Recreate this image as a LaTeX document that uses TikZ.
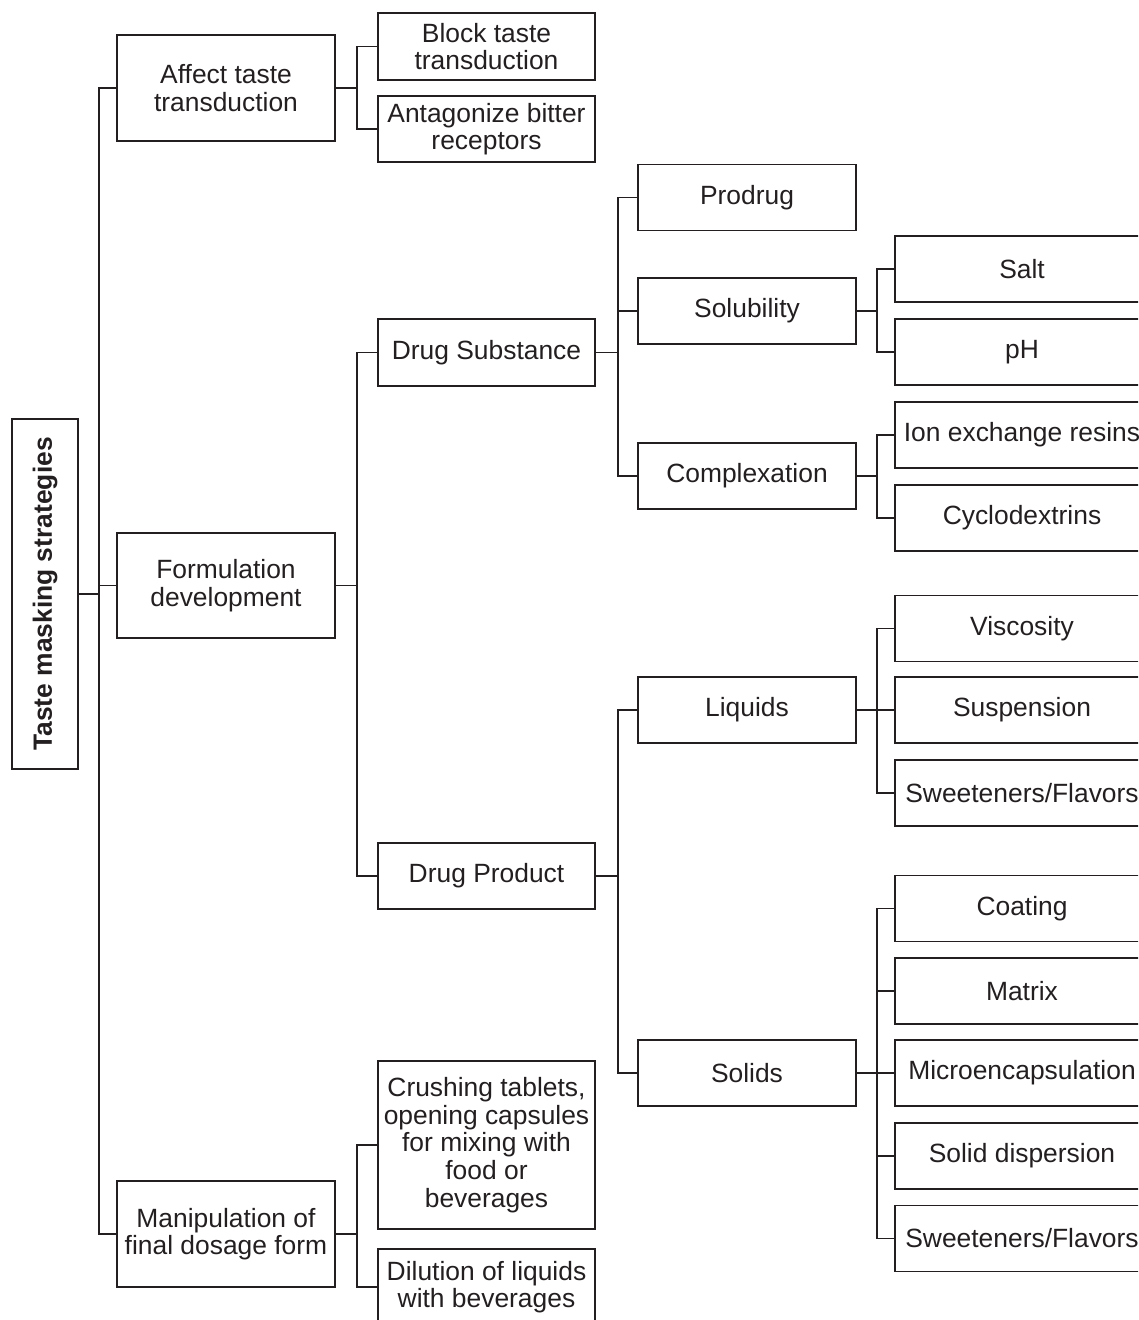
\documentclass[tikz,border=0pt]{standalone}
\usepackage{fontspec}
\setmainfont{Liberation Sans}
\definecolor{ink}{HTML}{231F20}
\begin{document}
\begin{tikzpicture}[x=1pt,y=-1pt,
  box/.style={draw=ink,line width=1.7pt,rectangle,inner sep=0pt,align=center,
    text=ink,font=\fontsize{26.4}{27.6}\selectfont},
  lone/.style={box,minimum width=218pt},
  ltwo/.style={box,minimum width=217pt},
  lthree/.style={box,minimum width=218pt,minimum height=66pt},
  lfour/.style={box,minimum width=254pt,minimum height=66pt},
  link/.style={draw=ink,line width=1.7pt}]
\useasboundingbox (0,0) rectangle (1138,1320);
\clip (0,0) rectangle (1138,1320);
% root
\node[box,rotate=90,minimum width=350pt,minimum height=66pt,font=\fontsize{26.4}{27.6}\selectfont\bfseries] (root) at (45,594) {Taste masking strategies};
% level 1
\node[lone,minimum height=106pt] (affect) at (226,88) {Affect taste\\transduction};
\node[lone,minimum height=105pt] (form) at (226,585.5) {Formulation\\development};
\node[lone,minimum height=106pt] (manip) at (226,1234) {Manipulation of\\final dosage form};
% level 2
\node[ltwo,minimum height=67pt] (block) at (486.5,46.5) {Block taste\\transduction};
\node[ltwo,minimum height=66pt] (antag) at (486.5,129) {Antagonize bitter\\receptors};
\node[ltwo,minimum height=67pt] (dsub) at (486.5,352.5) {Drug Substance};
\node[ltwo,minimum height=66pt] (dprod) at (486.5,876) {Drug Product};
\node[ltwo,minimum height=168pt] (crush) at (486.5,1145) {Crushing tablets,\\opening capsules\\for mixing with\\food or\\beverages};
\node[ltwo,minimum height=76pt] (dilut) at (486.5,1287) {Dilution of liquids\\with beverages};
% level 3
\node[lthree] (prodrug) at (747,197.5) {Prodrug};
\node[lthree] (solub) at (747,311) {Solubility};
\node[lthree] (complex) at (747,476) {Complexation};
\node[lthree] (liquids) at (747,710) {Liquids};
\node[lthree] (solids) at (747,1073) {Solids};
% level 4
\node[lfour] (salt) at (1022,269) {Salt};
\node[lfour] (ph) at (1022,352) {pH};
\node[lfour] (ion) at (1022,435) {Ion exchange resins};
\node[lfour] (cyclo) at (1022,518) {Cyclodextrins};
\node[lfour] (visc) at (1022,628.5) {Viscosity};
\node[lfour] (susp) at (1022,710) {Suspension};
\node[lfour] (sweetA) at (1022,793) {Sweeteners/Flavors};
\node[lfour] (coat) at (1022,908.5) {Coating};
\node[lfour] (matrix) at (1022,991) {Matrix};
\node[lfour] (micro) at (1022,1073) {Microencapsulation};
\node[lfour] (sdisp) at (1022,1156) {Solid dispersion};
\node[lfour] (sweetB) at (1022,1238.5) {Sweeteners/Flavors};
% connectors
\foreach \c in {affect,form,manip} \draw[link] (root.south) -- +(20,0) |- (\c.west);
\foreach \c in {block,antag} \draw[link] (affect.east) -- +(21,0) |- (\c.west);
\foreach \c in {dsub,dprod} \draw[link] (form.east) -- +(21,0) |- (\c.west);
\foreach \c in {crush,dilut} \draw[link] (manip.east) -- +(21,0) |- (\c.west);
\foreach \c in {prodrug,solub,complex} \draw[link] (dsub.east) -- +(22,0) |- (\c.west);
\foreach \c in {liquids,solids} \draw[link] (dprod.east) -- +(22,0) |- (\c.west);
\foreach \c in {salt,ph} \draw[link] (solub.east) -- +(20,0) |- (\c.west);
\foreach \c in {ion,cyclo} \draw[link] (complex.east) -- +(20,0) |- (\c.west);
\foreach \c in {visc,susp,sweetA} \draw[link] (liquids.east) -- +(20,0) |- (\c.west);
\foreach \c in {coat,matrix,micro,sdisp,sweetB} \draw[link] (solids.east) -- +(20,0) |- (\c.west);
\end{tikzpicture}
\end{document}
